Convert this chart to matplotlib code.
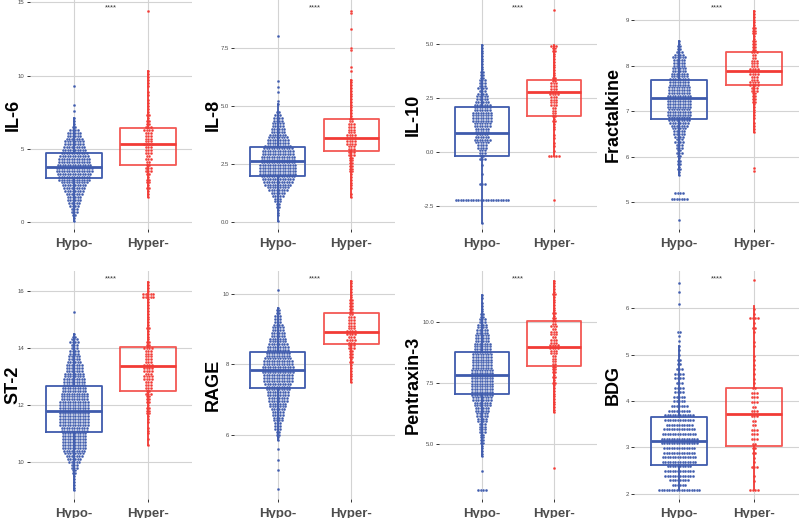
import matplotlib.pyplot as plt
import numpy as np

plt.rcParams['font.family'] = ['Liberation Sans', 'DejaVu Sans']

groups = ["Hypo-", "Hyper-"]
markers = ["IL-6", "IL-8", "IL-10", "Fractalkine", "ST-2", "RAGE", "Pentraxin-3", "BDG"]

# swarm data read off the picture as binned levels: first level, bin step,
# number of points at each level; isolated points are listed in *_extra
# box values: q1, median, q3, lower whisker, upper whisker

il6_step = 0.2
il6_hypo_from = 0.1
il6_hypo_counts = [1, 1, 2, 3, 3, 4, 5, 6, 6, 7, 8, 9, 10, 11, 13, 13, 14, 15, 15, 14,
                   13, 13, 12, 11, 10, 9, 8, 8, 7, 6, 6, 4, 2, 1, 1, 1]
il6_hypo_extra = [7.6, 8.0, 9.3]
il6_hypo_box = [2.98, 3.78, 4.69, 0.1, 7.1]
il6_hyper_from = 1.7
il6_hyper_counts = [1, 1, 1, 2, 1, 2, 2, 1, 2, 3, 3, 2, 2, 3, 2, 3, 3, 3, 4, 3,
                    3, 3, 3, 4, 3, 2, 2, 1, 2, 1, 1, 1, 1, 1, 0, 1, 1, 0, 1, 1,
                    1, 1, 1, 1]
il6_hyper_extra = [14.4]
il6_hyper_box = [3.89, 5.32, 6.44, 1.7, 10.3]

il8_step = 0.12
il8_hypo_from = 0.05
il8_hypo_counts = [1, 0, 1, 1, 1, 2, 2, 3, 3, 5, 6, 8, 9, 11, 12, 13, 14, 15, 15, 15,
                   15, 14, 14, 14, 13, 13, 12, 11, 9, 9, 8, 7, 6, 6, 5, 5, 4, 4, 3, 2]
il8_hypo_extra = [5.1, 5.2, 5.6, 5.8, 6.1, 8.0]
il8_hypo_box = [1.98, 2.64, 3.23, 0.05, 5.1]
il8_hyper_from = 1.1
il8_hyper_counts = [1, 1, 0, 1, 1, 1, 1, 1, 1, 2, 2, 2, 2, 2, 2, 3, 3, 3, 3, 4,
                    4, 4, 4, 3, 3, 3, 3, 2, 2, 1, 1, 1, 1, 1, 1, 1, 1, 1, 1, 1,
                    1, 1, 1]
il8_hyper_extra = [6.5, 6.7, 7.4, 7.5, 8.3, 9.0, 9.1]
il8_hyper_box = [3.07, 3.63, 4.43, 1.1, 6.14]

il10_step = 0.125
il10_hypo_from = -0.3
il10_hypo_counts = [3, 2, 3, 3, 4, 4, 6, 7, 6, 5, 6, 6, 7, 7, 8, 8, 8, 8, 7, 7,
                    7, 6, 5, 5, 4, 3, 4, 3, 3, 3, 2, 2, 2, 1, 1, 1, 1, 1, 1, 1,
                    1, 1, 1]
il10_hypo_extra = [-0.6, -1.0, -1.5, -1.5, -1.5, -3.3] + [-2.2] * 22
il10_hypo_box = [-0.19, 0.90, 2.10, -3.3, 4.95]
il10_hyper_from = -0.2
il10_hyper_counts = [5, 0, 1, 0, 1, 1, 0, 1, 1, 0, 1, 1, 1, 2, 1, 2, 2, 2, 2, 3,
                     3, 3, 3, 4, 4, 3, 3, 3, 2, 2, 1, 1, 1, 1, 1, 1, 1, 1, 1, 2,
                     2, 3]
il10_hyper_extra = [6.6, -2.2]
il10_hyper_box = [1.65, 2.76, 3.32, -0.2, 4.95]

frac_step = 0.06
frac_hypo_from = 5.6
frac_hypo_counts = [1, 1, 2, 1, 2, 2, 1, 2, 3, 2, 3, 3, 4, 3, 4, 5, 5, 6, 7, 8,
                    9, 9, 10, 10, 9, 10, 10, 10, 10, 10, 9, 9, 9, 8, 8, 8, 7, 7, 6, 6,
                    5, 5, 5, 6, 4, 3, 2, 2, 1, 1]
frac_hypo_extra = [5.2] * 4 + [5.07] * 7 + [4.6]
frac_hypo_box = [6.82, 7.29, 7.69, 5.6, 8.54]
frac_hyper_from = 6.55
frac_hyper_counts = [1, 1, 1, 1, 0, 1, 1, 1, 1, 1, 1, 2, 2, 2, 2, 3, 3, 4, 4, 3,
                     3, 4, 4, 4, 3, 3, 3, 2, 2, 3, 2, 2, 2, 2, 1, 1, 2, 2, 2, 1,
                     1, 1, 1, 1, 1]
frac_hyper_extra = [5.75, 5.68]
frac_hyper_box = [7.57, 7.89, 8.30, 6.55, 9.19]

st2_step = 0.1
st2_hypo_from = 9.0
st2_hypo_counts = [1, 1, 1, 1, 1, 1, 2, 2, 3, 3, 5, 6, 7, 8, 9, 10, 10, 10, 10, 10,
                   10, 11, 11, 12, 12, 12, 12, 12, 12, 12, 12, 12, 11, 11, 11, 10, 10, 9, 9, 9,
                   8, 8, 7, 7, 7, 6, 5, 5, 4, 4, 3, 3, 4, 3, 2, 1]
st2_hypo_extra = [15.25]
st2_hypo_box = [11.04, 11.78, 12.68, 9.0, 14.5]
st2_hyper_from = 10.6
st2_hyper_counts = [1, 0, 1, 0, 1, 1, 1, 0, 1, 1, 1, 2, 2, 2, 1, 2, 2, 2, 3, 2,
                    3, 3, 3, 4, 4, 3, 4, 4, 4, 3, 3, 3, 3, 3, 4, 2, 2, 1, 1, 1,
                    1, 2, 1, 1, 1, 1, 1, 1, 1, 1, 1, 1, 5, 5, 1, 1, 1, 1]
st2_hyper_extra = []
st2_hyper_box = [12.48, 13.35, 14.05, 10.6, 16.3]

rage_step = 0.08
rage_hypo_from = 5.85
rage_hypo_counts = [1, 1, 2, 2, 3, 3, 3, 4, 4, 5, 5, 6, 7, 7, 8, 8, 9, 9, 10, 10,
                    11, 12, 12, 12, 13, 13, 13, 12, 12, 11, 10, 10, 9, 9, 8, 7, 7, 6, 6, 5,
                    5, 4, 3, 3, 3, 2, 2, 1]
rage_hypo_extra = [10.1, 5.6, 5.3, 5.0, 4.45]
rage_hypo_box = [7.32, 7.83, 8.35, 5.85, 9.61]
rage_hyper_from = 7.5
rage_hyper_counts = [1, 1, 1, 1, 1, 1, 1, 2, 1, 2, 2, 2, 3, 3, 3, 4, 3, 4, 4, 3,
                     3, 3, 3, 3, 2, 2, 2, 2, 2, 2, 1, 1, 1, 1, 1, 1, 1]
rage_hyper_extra = []
rage_hyper_box = [8.57, 8.93, 9.45, 7.5, 10.38]

ptx_step = 0.11
ptx_hypo_from = 4.5
ptx_hypo_counts = [1, 1, 1, 1, 1, 2, 2, 2, 2, 3, 3, 3, 3, 4, 4, 5, 5, 6, 6, 7,
                   7, 8, 8, 9, 9, 9, 9, 9, 9, 9, 9, 9, 9, 8, 8, 8, 8, 8, 8, 7,
                   7, 7, 7, 6, 6, 6, 5, 5, 4, 4, 3, 3, 2, 2, 1, 1, 1, 1, 0, 1, 1]
ptx_hypo_extra = [3.9] + [3.13] * 4
ptx_hypo_box = [7.06, 7.84, 8.78, 4.5, 11.1]
ptx_hyper_from = 6.3
ptx_hyper_counts = [1, 1, 1, 1, 1, 1, 1, 1, 1, 1, 1, 2, 1, 2, 1, 2, 2, 2, 2, 2,
                    2, 2, 3, 3, 4, 4, 3, 3, 2, 3, 3, 2, 3, 2, 2, 2, 1, 2, 1, 1,
                    1, 1, 1, 1, 2, 1, 1, 1, 1, 1]
ptx_hyper_extra = [4.0]
ptx_hyper_box = [8.21, 8.99, 10.03, 6.3, 11.69]

bdg_step = 0.1
bdg_hypo_from = 2.09
bdg_hypo_counts = [17, 6, 8, 12, 12, 10, 14, 14, 13, 13, 15, 15, 14, 13, 11, 12, 12, 9, 7, 5,
                   5, 4, 4, 3, 4, 4, 3, 2, 2, 1, 1, 1, 1, 1, 2]
bdg_hypo_extra = [6.1, 6.35, 6.55]
bdg_hypo_box = [2.63, 3.13, 3.66, 2.09, 5.19]
bdg_hyper_from = 2.08
bdg_hyper_counts = [4, 0, 1, 1, 0, 3, 1, 1, 2, 2, 2, 3, 3, 3, 2, 2, 3, 3, 2, 3,
                    3, 3, 2, 1, 1, 1, 1, 1, 1, 1, 0, 1, 1, 0, 1, 2, 1, 4, 1, 1]
bdg_hyper_extra = [6.6]
bdg_hyper_box = [3.04, 3.71, 4.28, 2.08, 6.05]

y_ticks = [[0, 5, 10, 15], [0, 2.5, 5, 7.5], [-2.5, 0, 2.5, 5], [5, 6, 7, 8, 9],
           [10, 12, 14, 16], [6, 8, 10], [5, 7.5, 10], [2, 3, 4, 5, 6]]
y_fmt = ["%d", "%.1f", "%.1f", "%d", "%d", "%d", "%.1f", "%d"]
y_lims = [(-0.48, 15.16), (-0.30, 9.57), (-3.56, 7.04), (4.41, 9.44),
          (8.70, 16.70), (4.18, 10.65), (2.75, 12.09), (1.89, 6.80)]

panels = [
    (il6_step, (il6_hypo_from, il6_hypo_counts, il6_hypo_extra, il6_hypo_box),
     (il6_hyper_from, il6_hyper_counts, il6_hyper_extra, il6_hyper_box)),
    (il8_step, (il8_hypo_from, il8_hypo_counts, il8_hypo_extra, il8_hypo_box),
     (il8_hyper_from, il8_hyper_counts, il8_hyper_extra, il8_hyper_box)),
    (il10_step, (il10_hypo_from, il10_hypo_counts, il10_hypo_extra, il10_hypo_box),
     (il10_hyper_from, il10_hyper_counts, il10_hyper_extra, il10_hyper_box)),
    (frac_step, (frac_hypo_from, frac_hypo_counts, frac_hypo_extra, frac_hypo_box),
     (frac_hyper_from, frac_hyper_counts, frac_hyper_extra, frac_hyper_box)),
    (st2_step, (st2_hypo_from, st2_hypo_counts, st2_hypo_extra, st2_hypo_box),
     (st2_hyper_from, st2_hyper_counts, st2_hyper_extra, st2_hyper_box)),
    (rage_step, (rage_hypo_from, rage_hypo_counts, rage_hypo_extra, rage_hypo_box),
     (rage_hyper_from, rage_hyper_counts, rage_hyper_extra, rage_hyper_box)),
    (ptx_step, (ptx_hypo_from, ptx_hypo_counts, ptx_hypo_extra, ptx_hypo_box),
     (ptx_hyper_from, ptx_hyper_counts, ptx_hyper_extra, ptx_hyper_box)),
    (bdg_step, (bdg_hypo_from, bdg_hypo_counts, bdg_hypo_extra, bdg_hypo_box),
     (bdg_hyper_from, bdg_hyper_counts, bdg_hyper_extra, bdg_hyper_box)),
]

colors = ["#3F5BAD", "#F23B36"]
W, H = 800, 518
# axes extents in pixels
col_px = [(29.6, 192.4), (234, 395), (439, 597), (634, 799)]
row_px = [(0, 229), (271, 499)]


def swarm_points(x0, start, step, counts, extra, dx):
    levels = start + step * np.arange(len(counts))
    vals = np.concatenate([np.repeat(levels, counts), np.array(extra, dtype=float)])
    uniq, n_at = np.unique(np.round(vals, 4), return_counts=True)
    xs, ys = [], []
    for v, n in zip(uniq, n_at):
        off = (np.arange(n) - (n - 1) / 2) * dx
        xs.extend(x0 + off)
        ys.extend([v] * n)
    return np.array(xs), np.array(ys)


fig = plt.figure(figsize=(W / 100, H / 100), dpi=100)

for i, (name, (step, *grps)) in enumerate(zip(markers, panels)):
    r, c = divmod(i, 4)
    x0, x1 = col_px[c]
    y0, y1 = row_px[r]
    ax = fig.add_axes([x0 / W, 1 - y1 / H, (x1 - x0) / W, (y1 - y0) / H])
    ax.set_xlim(0.4, 2.6)
    ax.set_ylim(*y_lims[i])
    dx = 2.5 / ((x1 - x0) / 2.2)

    for g, (start, counts, extra, box) in enumerate(grps):
        col = colors[g]
        xs, ys = swarm_points(g + 1, start, step, counts, extra, dx)
        ax.scatter(xs, ys, s=4.5, color=col, edgecolors="white", linewidths=0.2,
                   zorder=2)
        q1, med, q3, lo, hi = box
        stats = [dict(q1=q1, med=med, q3=q3, whislo=lo, whishi=hi, fliers=[])]
        a = 1.0 if g == 0 else 0.85
        ax.bxp(stats, positions=[g + 1], widths=0.75, showfliers=False, showcaps=False,
               boxprops=dict(color=col, lw=1.3, alpha=a),
               whiskerprops=dict(color=col, lw=1.3),
               medianprops=dict(color=col, lw=2.0),
               manage_ticks=False, zorder=3)

    ax.set_xticks([1, 2])
    ax.set_xticklabels(groups, fontsize=9.5, fontweight="bold", color="#4D4D4D")
    ax.set_yticks(y_ticks[i])
    ax.set_yticklabels([y_fmt[i] % t for t in y_ticks[i]], fontsize=4.3, color="#4D4D4D")
    ax.tick_params(axis="both", length=2.2, width=0.7, color="#333333")
    ax.tick_params(axis="x", pad=4)
    ax.tick_params(axis="y", pad=1.5)
    ax.grid(True, color="#D3D3D3", lw=0.8, zorder=0)
    ax.set_axisbelow(True)
    for sp in ax.spines.values():
        sp.set_visible(False)
    ax.text(1.5, 0.965, "****", transform=ax.get_xaxis_transform(), ha="center",
            va="center", fontsize=5.5, color="#333333")

    fig.text((c * 200 + 13) / W, 1 - (y0 + y1) / 2 / H, name, rotation=90,
             ha="center", va="center", fontsize=13, fontweight="bold", color="black")

fig.savefig("out.png", dpi=100)
